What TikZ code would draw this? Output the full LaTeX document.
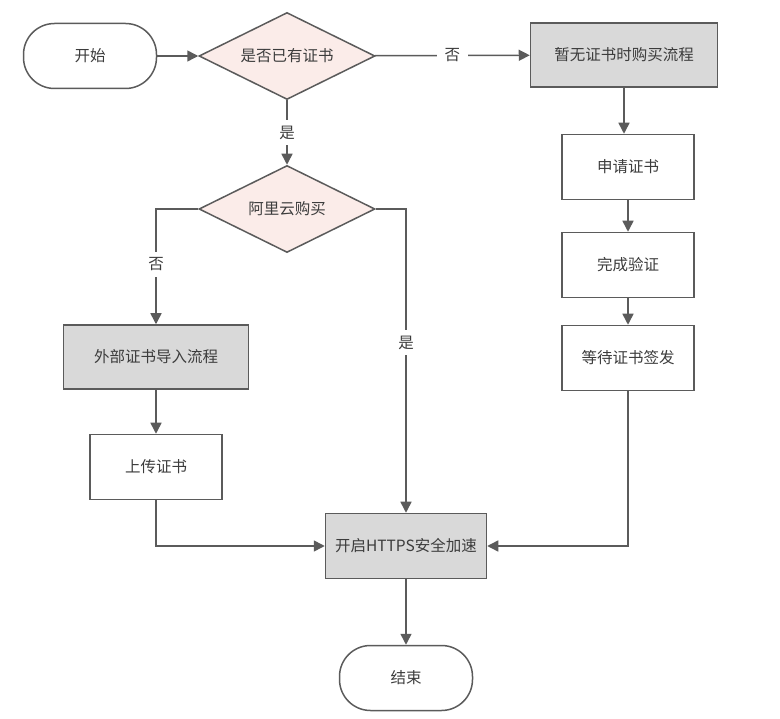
\documentclass[tikz,border=0pt]{standalone}
\usepackage{fontspec}
\setmainfont{Noto Sans CJK SC}
\usetikzlibrary{shapes.geometric,arrows.meta}

\definecolor{linegray}{HTML}{5B5B5B}
\definecolor{textgray}{HTML}{3C3C3C}
\definecolor{boxgray}{HTML}{D9D9D9}
\definecolor{askpink}{HTML}{FBECE9}

\begin{document}
\begin{tikzpicture}[x=1pt,y=-1pt,
    font=\fontsize{15.5}{18}\selectfont, text=textgray,
    every node/.style={draw=linegray, line width=1.5pt},
    terminal/.style={rectangle, rounded corners=31pt, minimum width=133pt, minimum height=65pt},
    ask/.style={diamond, fill=askpink, aspect=2, inner sep=0pt, minimum width=176pt, minimum height=87pt},
    procbox/.style={rectangle, fill=boxgray, minimum height=64pt},
    stepbox/.style={rectangle, fill=white, minimum width=132pt, minimum height=65pt},
    lbl/.style={draw=none, fill=white, inner xsep=8pt, inner ysep=6pt},
    flow/.style={draw=linegray, line width=1.5pt, -{Triangle[length=11pt,width=11pt]}}]

  \useasboundingbox (0,0) rectangle (780,719);

  % nodes
  \node[terminal] (start) at (90,56) {开始};
  \node[ask] (hascert) at (287,56) {是否已有证书};
  \node[procbox, minimum width=187pt] (buy) at (624,55) {暂无证书时购买流程};
  \node[stepbox] (apply) at (628,167) {申请证书};
  \node[stepbox] (verify) at (628,265) {完成验证};
  \node[stepbox] (wait) at (628,358) {等待证书签发};
  \node[ask] (aliyun) at (287,209) {阿里云购买};
  \node[procbox, minimum width=185pt] (extern) at (156,357) {外部证书导入流程};
  \node[stepbox] (upload) at (156,467) {上传证书};
  \node[procbox, minimum width=161pt, minimum height=65pt] (https) at (406,546) {开启HTTPS安全加速};
  \node[terminal] (finish) at (406,678) {结束};

  % connectors
  \draw[flow] (start) -- (hascert);
  \draw[flow] (hascert) -- node[lbl] {否} (buy);
  \draw[flow] (buy.south) -- (buy.south |- apply.north);
  \draw[flow] (apply) -- (verify);
  \draw[flow] (verify) -- (wait);
  \draw[flow] (wait.south) |- (https.east);
  \draw[flow] (hascert.south) -- node[lbl] {是} (aliyun.north);
  \draw[flow] (aliyun.west) -| node[lbl, pos=0.74] {否} (extern.north);
  \draw[flow] (aliyun.east) -| node[lbl, pos=0.72] {是} (https.north);
  \draw[flow] (extern) -- (upload);
  \draw[flow] (upload.south) |- (https.west);
  \draw[flow] (https) -- (finish);

\end{tikzpicture}
\end{document}
